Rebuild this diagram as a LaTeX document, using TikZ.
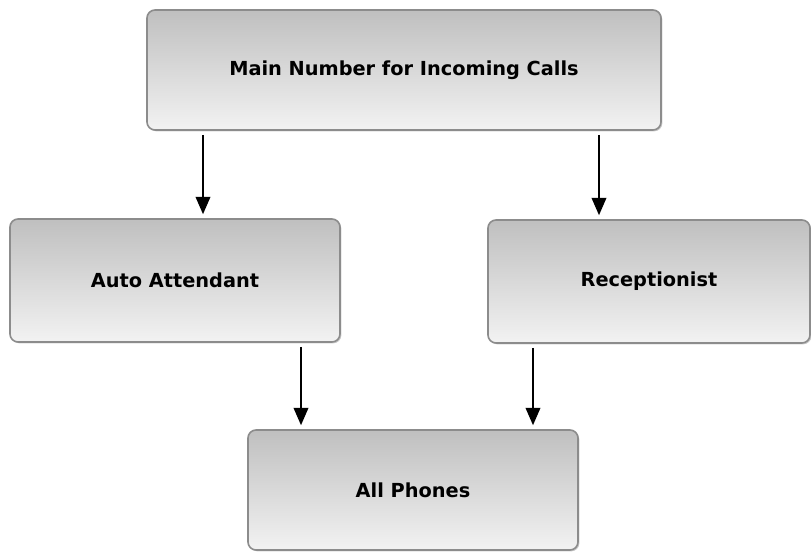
\documentclass[tikz,border=0pt]{standalone}
\usepackage{fontspec}
\setmainfont{DejaVu Sans}
\usepackage{tikz}
\usetikzlibrary{arrows.meta, positioning, shadows}

\tikzset{
  callbox/.style={draw=black!45, line width=1.2pt, rounded corners=6pt,
    top color=black!25, bottom color=black!5,
    drop shadow={shadow xshift=1pt, shadow yshift=-1pt, opacity=0.35, fill=black!60},
    font=\fontsize{14.5}{17}\selectfont\bfseries, align=center},
  flow/.style={->, line width=1.2pt, shorten <=3pt, shorten >=3pt}
}

\begin{document}
\begin{tikzpicture}[x=0.75pt, y=-0.75pt, >={Triangle[length=13pt, width=11pt]}]
  \useasboundingbox (0,0) rectangle (811,552);
  \node[callbox, minimum width=385.5pt, minimum height=90pt] (main) at (404,70) {Main Number for Incoming Calls};
  \node[callbox, minimum width=247.5pt, minimum height=92.25pt] (auto) at (175,280.5) {Auto Attendant};
  \node[callbox, minimum width=241.5pt, minimum height=92.25pt] (recep) at (649,281.5) {Receptionist};
  \node[callbox, minimum width=247.5pt, minimum height=90pt] (phones) at (413,490) {All Phones};
  \draw[flow] ([xshift=-150.75pt]main.south) -- ([xshift=-150.75pt]main.south |- auto.north);
  \draw[flow] ([xshift=146.25pt]main.south) -- ([xshift=146.25pt]main.south |- recep.north);
  \draw[flow] ([xshift=94.5pt]auto.south) -- ([xshift=94.5pt]auto.south |- phones.north);
  \draw[flow] ([xshift=-87pt]recep.south) -- ([xshift=-87pt]recep.south |- phones.north);
\end{tikzpicture}
\end{document}
